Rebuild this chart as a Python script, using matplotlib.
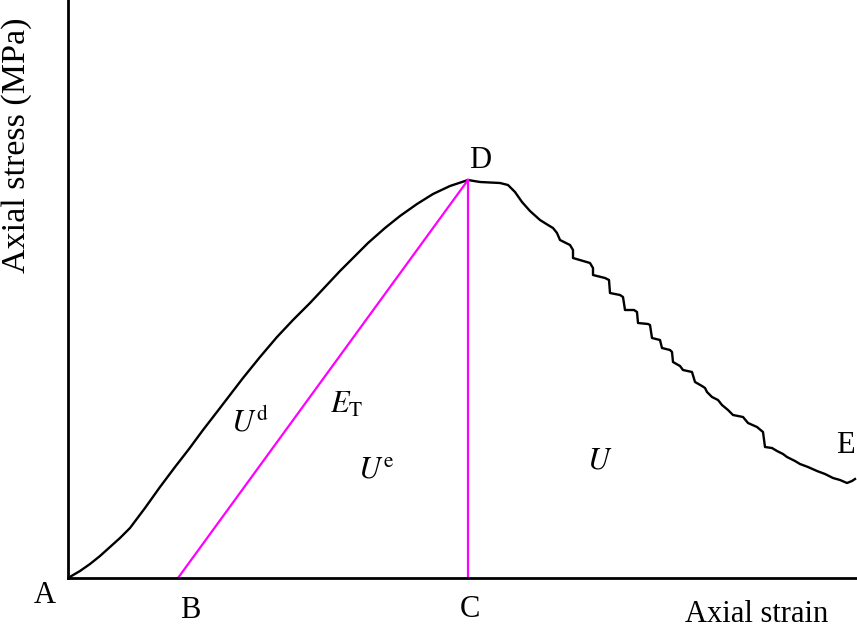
import numpy as np
import matplotlib.pyplot as plt

# curve (pixel-like units: strain right, stress up)
curve_x = [68, 80, 90, 100, 110, 120, 130, 145, 160, 175, 189, 203, 220, 243, 260,
           277, 293, 310, 325, 340, 355, 368, 385, 400, 417, 433, 450, 468,
           480, 500, 508, 515, 522, 530, 540, 548, 553, 557, 560, 570, 573, 573,
           590, 593, 593, 605, 609, 610, 620, 623, 625, 634, 637, 638, 648, 650,
           652, 660, 662, 670, 672, 673, 680, 683, 692, 695, 702, 705, 707, 712,
           718, 722, 728, 733, 743, 748, 757, 763, 765, 772, 777, 783, 787, 795,
           800, 808, 817, 825, 833, 840, 847, 852, 855]
curve_y = [578, 571, 564, 556, 547, 538, 528, 508, 487, 467, 449, 430, 408, 378, 357,
           337, 320, 303, 287, 271, 256, 243, 228, 216, 204, 194, 186, 180,
           182, 183, 185, 192, 202, 211, 220, 225, 228, 233, 240, 245, 250, 258,
           263, 268, 275, 278, 280, 293, 295, 297, 310, 310, 312, 323, 324, 325,
           338, 340, 348, 350, 352, 362, 366, 370, 372, 382, 386, 388, 392, 397,
           400, 405, 410, 415, 417, 423, 427, 432, 447, 448, 451, 454, 457, 461,
           464, 467, 471, 474, 478, 480, 483, 481, 479]

x0, y0 = 68, 578
strain = np.array(curve_x) - x0
stress = y0 - np.array(curve_y)

pt_B = 178 - x0
pt_C = 468 - x0
peak = y0 - 180

plt.rcParams['mathtext.fontset'] = 'stix'
fig = plt.figure(figsize=(8.57, 6.3), dpi=100)
ax = fig.add_axes([68 / 857, 52 / 630, 789 / 857, 578 / 630])
serif = 'Liberation Serif'

ax.plot(strain, stress, color='black', lw=1.7, solid_joinstyle='round')
ax.plot([pt_B, pt_C], [0, peak], color='#ff00ff', lw=1.6)
ax.plot([pt_C, pt_C], [0, peak], color='#ff00ff', lw=1.6)

ax.set_xlim(0, 789)
ax.set_ylim(0, 578)
ax.spines['top'].set_visible(False)
ax.spines['right'].set_visible(False)
ax.spines['left'].set_linewidth(2)
ax.spines['bottom'].set_linewidth(2)
ax.set_xticks([])
ax.set_yticks([])

fs = 22
for lab, px, py in [('A', 45, 603), ('B', 190, 618), ('C', 470, 617),
                    ('D', 480, 168), ('E', 845, 453)]:
    ax.text(px - x0, y0 - py, lab, fontsize=fs, family=serif,
            ha='center', va='baseline', clip_on=False)

ax.text(250 - x0, y0 - 422, r'$U^{\mathrm{d}}$', fontsize=fs, ha='center', va='center')
ax.text(347 - x0, y0 - 404, r'$E_{\mathrm{T}}$', fontsize=fs, ha='center', va='center')
ax.text(376 - x0, y0 - 470, r'$U^{\mathrm{e}}$', fontsize=fs, ha='center', va='center')
ax.text(600 - x0, y0 - 460, r'$U$', fontsize=fs, ha='center', va='center')

ax.text(757 - x0, y0 - 615, 'Axial strain', fontsize=22, family=serif,
        ha='center', va='center', clip_on=False)
ax.text(17 - x0, y0 - 145, 'Axial stress (MPa)', fontsize=24.5, family=serif,
        rotation=90, ha='center', va='center', clip_on=False)

plt.savefig('out.png', dpi=100)
